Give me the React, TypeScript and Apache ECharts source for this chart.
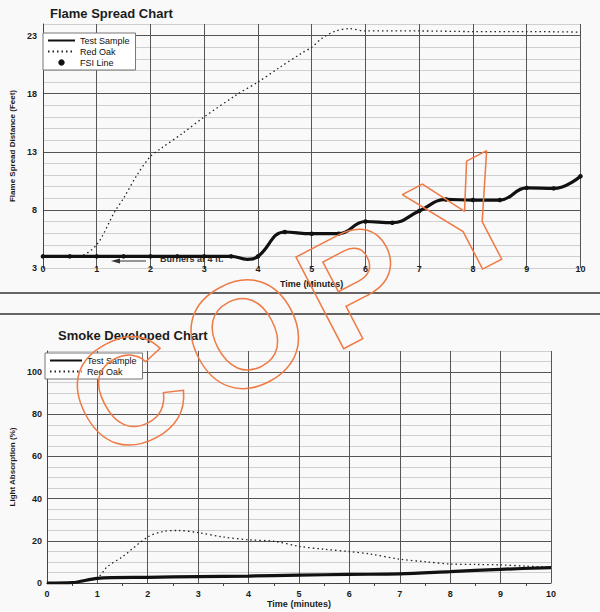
import React, { useEffect, useRef } from "react";
import * as echarts from "echarts";

// ---------------- data ----------------
// Flame spread chart (minutes -> feet)
const flameTime = [0, 0.5, 1, 1.5, 2, 2.5, 3, 3.5, 3.8, 4, 4.5, 5, 5.5, 6, 6.5, 7, 7.5, 8, 8.5, 9, 9.5, 10];
const flameTestSample = [4, 4, 4, 4, 4, 4, 4, 4, 3.75, 4, 6.1, 5.95, 5.95, 7, 6.9, 7.9, 8.9, 8.85, 8.85, 9.9, 9.85, 10.9];
const flameUnmarkedTimes = [3.8];
const redOakFlameTime = [0, 0.65, 1, 1.33, 1.5, 1.75, 2, 2.2, 2.6, 3, 3.6, 4, 4.4, 4.8, 5, 5.2, 5.45, 5.7, 6, 7, 8, 9, 10];
const redOakFlame = [4, 4, 5, 7.8, 9, 11, 12.6, 13.3, 14.6, 16, 17.9, 19, 20.25, 21.45, 22, 22.8, 23.4, 23.6, 23.4, 23.4, 23.35, 23.35, 23.3];
const fsiLine: number[][] = [];

// Smoke developed chart (minutes -> % light absorption)
const smokeTime = [0, 0.5, 1, 2, 3, 4, 5, 6, 7, 8, 9, 10];
const smokeTestSample = [0, 0.2, 2.2, 2.7, 3, 3.3, 3.7, 4.1, 4.3, 5.4, 6.5, 7.3];
const redOakSmokeTime = [0, 0.5, 1, 1.2, 1.5, 2, 2.3, 2.6, 3, 3.5, 4, 4.5, 5, 5.5, 6, 6.4, 7, 7.5, 8, 8.5, 9, 9.5, 10];
const redOakSmoke = [0, 0.2, 2.5, 7.8, 12.5, 21.8, 24.4, 24.9, 23.9, 21.8, 20.5, 19.8, 17.4, 16, 14.9, 13.8, 11.3, 10.1, 9, 8.8, 8.6, 8, 7.4];

// Tick labels
const flameYTicks = [3, 8, 13, 18, 23];
const smokeYTicks = [0, 20, 40, 60, 80, 100];
const timeTicks = [0, 1, 2, 3, 4, 5, 6, 7, 8, 9, 10];

// Stamp letters
const stampLetters = ["C", "O", "P", "Y"];

// --------------------------------------
const FONT = '"Liberation Sans", Arial, Helvetica, sans-serif';
const DARK = "#555";
const LIGHT = "#cfcfcf";
const INK = "#1c1c1c";

const zip = (xs: number[], ys: number[]) => xs.map((x, i) => [x, ys[i]]);

function lineColors(min: number, max: number, step: number, majors: number[], hideMin: boolean) {
  const out: string[] = [];
  for (let v = min; v <= max + 1e-9; v += step) {
    const r = Math.round(v * 100) / 100;
    if (r === min && hideMin) out.push(LIGHT);
    else out.push(majors.includes(r) ? DARK : LIGHT);
  }
  return out;
}

export default function App() {
  const ref = useRef<HTMLDivElement>(null);

  useEffect(() => {
    if (!ref.current) return;
    const chart = echarts.init(ref.current, undefined, { renderer: "svg" });

    const labelStyle = { fontSize: 9, fontWeight: "bold" as const, color: INK, fontFamily: FONT };
    const nameStyle = { fontSize: 9, fontWeight: "bold" as const, color: INK, fontFamily: FONT };

    const flameTestData = zip(flameTime, flameTestSample).map((p) =>
      flameUnmarkedTimes.includes(p[0]) ? { value: p, symbol: "none" } : { value: p }
    );

    const stampPos = [
      [128, 392],
      [245, 334],
      [355, 284],
      [468, 218],
    ];
    const stamp = stampLetters.map((ch, i) => ({
      type: "text",
      x: stampPos[i][0],
      y: stampPos[i][1],
      rotation: 0.48,
      z: 100,
      silent: true,
      style: {
        text: ch,
        fontSize: 150,
        fontWeight: "bold",
        fontFamily: FONT,
        fill: "rgba(0,0,0,0)",
        stroke: "#ee7b45",
        lineWidth: 1.5,
        align: "center",
        verticalAlign: "middle",
      },
    }));

    const option: any = {
      animation: false,
      backgroundColor: "#f9f9f9",
      title: [
        {
          text: "Flame Spread Chart",
          left: 50,
          top: 7,
          padding: 0,
          textStyle: { fontSize: 13, fontWeight: "bold", color: INK, fontFamily: FONT },
        },
        {
          text: "Smoke Developed Chart",
          left: 58,
          top: 329,
          padding: 0,
          textStyle: { fontSize: 13, fontWeight: "bold", color: INK, fontFamily: FONT },
        },
      ],
      legend: [
        {
          left: 43,
          top: 33,
          orient: "vertical",
          selectedMode: false,
          itemWidth: 27,
          itemHeight: 8,
          itemGap: 2,
          padding: [3, 6, 3, 4],
          backgroundColor: "#fff",
          borderColor: "#777",
          borderWidth: 1,
          textStyle: { fontSize: 9, color: "#111", fontFamily: FONT },
          data: [
            { name: "Test Sample", itemStyle: { opacity: 0 } },
            { name: "Red Oak", itemStyle: { opacity: 0 } },
            { name: "FSI Line", lineStyle: { opacity: 0 } },
          ],
        },
        {
          left: 45,
          top: 353,
          orient: "vertical",
          selectedMode: false,
          itemWidth: 32,
          itemHeight: 8,
          itemGap: 2,
          padding: [3, 6, 3, 4],
          backgroundColor: "#fff",
          borderColor: "#777",
          borderWidth: 1,
          textStyle: { fontSize: 9, color: "#111", fontFamily: FONT },
          data: [
            { name: "Test Sample", itemStyle: { opacity: 0 } },
            { name: "Red Oak", itemStyle: { opacity: 0 } },
          ],
        },
      ],
      grid: [
        { left: 38, top: 24, width: 542.5, height: 244 },
        { left: 39, top: 351, width: 512, height: 232 },
      ],
      xAxis: [
        {
          gridIndex: 0,
          type: "value",
          min: timeTicks[0],
          max: timeTicks[timeTicks.length - 1],
          interval: 1,
          axisLine: { show: false },
          axisTick: { show: false },
          axisLabel: { ...labelStyle, margin: -4 },
          splitLine: { show: true, lineStyle: { color: DARK, width: 1 } },
          name: "Time (Minutes)",
          nameLocation: "middle",
          nameGap: 11,
          nameTextStyle: nameStyle,
        },
        {
          gridIndex: 1,
          type: "value",
          min: timeTicks[0],
          max: timeTicks[timeTicks.length - 1],
          interval: 1,
          axisLine: { show: true, lineStyle: { color: "#444", width: 1 } },
          axisTick: { show: false },
          minorTick: { show: true, splitNumber: 2, length: 3, lineStyle: { color: "#444" } },
          axisLabel: { ...labelStyle, margin: 6 },
          splitLine: { show: true, lineStyle: { color: DARK, width: 1 } },
          name: "Time (minutes)",
          nameLocation: "middle",
          nameGap: 16,
          nameTextStyle: nameStyle,
        },
      ],
      yAxis: [
        {
          gridIndex: 0,
          type: "value",
          min: 3,
          max: 24,
          interval: 1,
          axisLine: { show: true, lineStyle: { color: "#444", width: 1 } },
          axisTick: { show: false },
          axisLabel: {
            ...labelStyle,
            margin: 6,
            formatter: (v: number) => (flameYTicks.includes(Math.round(v * 100) / 100) ? String(v) : ""),
          },
          splitLine: { show: true, lineStyle: { color: lineColors(3, 24, 1, flameYTicks, true), width: 1 } },
          name: "Flame Spread Distance (Feet)",
          nameLocation: "middle",
          nameGap: 23,
          nameTextStyle: { ...nameStyle, fontSize: 8 },
        },
        {
          gridIndex: 1,
          type: "value",
          min: 0,
          max: 110,
          interval: 5,
          axisLine: { show: true, lineStyle: { color: "#444", width: 1 } },
          axisTick: { show: false },
          axisLabel: {
            ...labelStyle,
            margin: 5,
            formatter: (v: number) => (smokeYTicks.includes(Math.round(v)) ? String(v) : ""),
          },
          splitLine: { show: true, lineStyle: { color: lineColors(0, 110, 5, smokeYTicks, false), width: 1 } },
          name: "Light Absorption (%)",
          nameLocation: "middle",
          nameGap: 23,
          nameTextStyle: { ...nameStyle, fontSize: 8 },
        },
      ],
      series: [
        {
          name: "Red Oak",
          type: "line",
          xAxisIndex: 0,
          yAxisIndex: 0,
          data: zip(redOakFlameTime, redOakFlame),
          symbol: "none",
          smooth: 0.3,
          lineStyle: { color: "#222", width: 1.3, type: [1.5, 3] },
          itemStyle: { color: "#222" },
          z: 2,
        },
        {
          name: "Test Sample",
          type: "line",
          xAxisIndex: 0,
          yAxisIndex: 0,
          data: flameTestData,
          symbol: "circle",
          symbolSize: 4.5,
          smooth: 0.45,
          lineStyle: { color: "#111", width: 3.2 },
          itemStyle: { color: "#111" },
          z: 3,
        },
        {
          name: "FSI Line",
          type: "line",
          xAxisIndex: 0,
          yAxisIndex: 0,
          data: fsiLine,
          symbol: "circle",
          symbolSize: 5,
          lineStyle: { width: 0, opacity: 0 },
          itemStyle: { color: "#111" },
        },
        {
          name: "Red Oak",
          type: "line",
          xAxisIndex: 1,
          yAxisIndex: 1,
          data: zip(redOakSmokeTime, redOakSmoke),
          symbol: "none",
          smooth: 0.3,
          lineStyle: { color: "#222", width: 1.3, type: [1.5, 3] },
          itemStyle: { color: "#222" },
          z: 2,
        },
        {
          name: "Test Sample",
          type: "line",
          xAxisIndex: 1,
          yAxisIndex: 1,
          data: zip(smokeTime, smokeTestSample),
          symbol: "none",
          smooth: 0.3,
          lineStyle: { color: "#111", width: 3.2 },
          itemStyle: { color: "#111" },
          z: 3,
        },
      ],
      graphic: [
        { type: "line", shape: { x1: 0, y1: 293, x2: 600, y2: 293 }, style: { stroke: "#333", lineWidth: 1.5 } },
        { type: "line", shape: { x1: 0, y1: 314, x2: 600, y2: 314 }, style: { stroke: "#333", lineWidth: 1.5 } },
        { type: "line", shape: { x1: 118, y1: 261, x2: 146, y2: 261 }, style: { stroke: "#333", lineWidth: 1 } },
        {
          type: "polygon",
          shape: { points: [[111, 261], [120, 258.5], [120, 263.5]] },
          style: { fill: "#333" },
        },
        {
          type: "text",
          x: 160,
          y: 259,
          style: {
            text: "Burners at 4 ft.",
            fontSize: 9,
            fontWeight: "bold",
            fontFamily: FONT,
            fill: "#333",
            verticalAlign: "middle",
          },
          z: 1,
        },
        ...stamp,
      ],
    };

    chart.setOption(option);
    return () => chart.dispose();
  }, []);

  return (
    <div
      ref={ref}
      style={{ position: "absolute", left: 0, top: 0, width: 600, height: 612 }}
    />
  );
}
